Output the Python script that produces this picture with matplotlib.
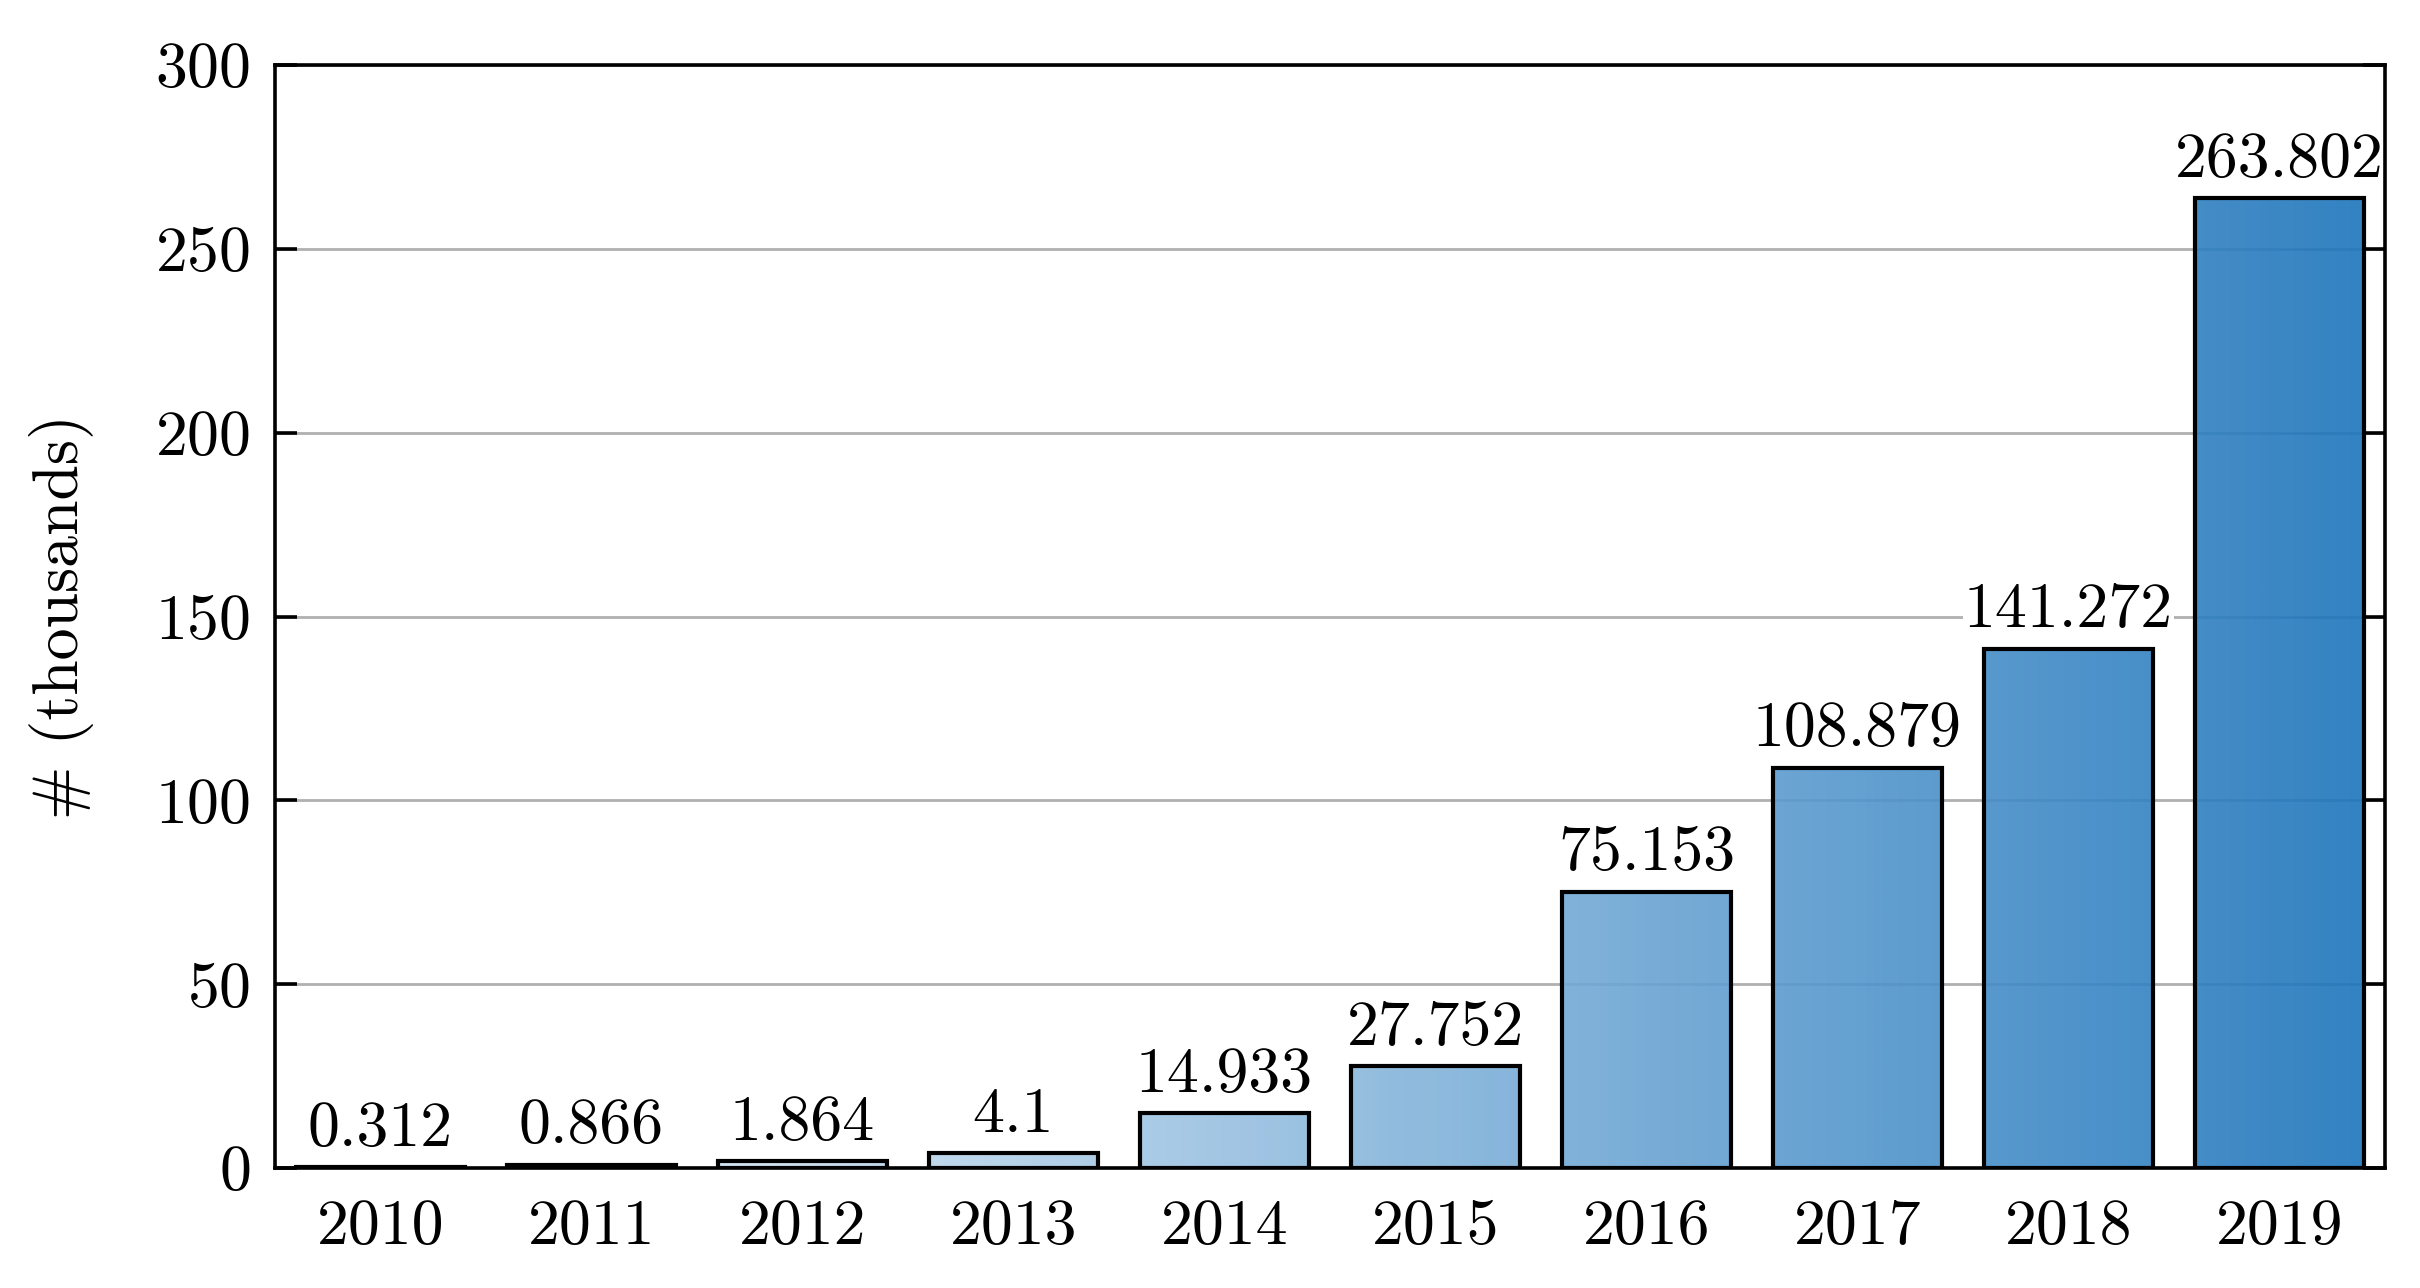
import numpy as np
import matplotlib
matplotlib.use("Agg")
import matplotlib.pyplot as plt
from matplotlib.colors import LinearSegmentedColormap

years = ["2010", "2011", "2012", "2013", "2014", "2015", "2016", "2017", "2018", "2019"]
values = [0.312, 0.866, 1.864, 4.1, 14.933, 27.752, 75.153, 108.879, 141.272, 263.802]
value_labels = ["0.312", "0.866", "1.864", "4.1", "14.933", "27.752", "75.153", "108.879", "141.272", "263.802"]
yticks = [0, 50, 100, 150, 200, 250, 300]
ylabel = "# (thousands)"

plt.rcParams['font.family'] = ['cmr10', 'DejaVu Serif']
plt.rcParams['mathtext.fontset'] = 'cm'
plt.rcParams['axes.formatter.use_mathtext'] = True

fig = plt.figure(figsize=(12.1, 6.44), dpi=200)
ax = fig.add_axes([275/2420, 1 - 1168/1288, (2385-275)/2420, (1168-65)/1288])

x = np.arange(len(years))
width = 0.8
xmin, xmax = -0.5, len(years) - 0.5
cmap = LinearSegmentedColormap.from_list('grad', ['#ffffff', '#1a73bb'])
FS = 23

for xi, h in zip(x, values):
    l, r = xi - width / 2, xi + width / 2
    xs = np.linspace(l, r, 64)
    g = (xs - xmin) / (xmax - xmin)
    ax.imshow(g[np.newaxis, :], extent=[l, r, 0, h], cmap=cmap, vmin=0, vmax=1,
              aspect='auto', origin='lower', zorder=2, alpha=0.9, interpolation='bilinear')

ax.bar(x, values, width=width, facecolor='none', edgecolor='black', linewidth=1.5, zorder=3)

for xi, h, lab in zip(x, values, value_labels):
    ax.annotate(lab, (xi, h), xytext=(0, 3), textcoords='offset points',
                ha='center', va='bottom', fontsize=FS, zorder=4,
                bbox=dict(facecolor='white', edgecolor='none', pad=0.5))

ax.set_xlim(xmin, xmax)
ax.set_ylim(0, 300)
ax.set_yticks(yticks)
ax.set_xticks(x)
ax.set_xticklabels(years)
ax.yaxis.grid(True, color='#b0b0b0', linewidth=1.0, zorder=1)
ax.set_axisbelow(True)
ax.tick_params(axis='y', direction='in', length=8, width=1.3, labelsize=FS, pad=9, right=True)
ax.tick_params(axis='x', length=0, labelsize=FS, pad=11)
for s in ax.spines.values():
    s.set_linewidth(1.3)
    s.set_zorder(5)
ax.set_ylabel(ylabel, fontsize=FS, labelpad=22)

fig.savefig("out.png", dpi=200)
